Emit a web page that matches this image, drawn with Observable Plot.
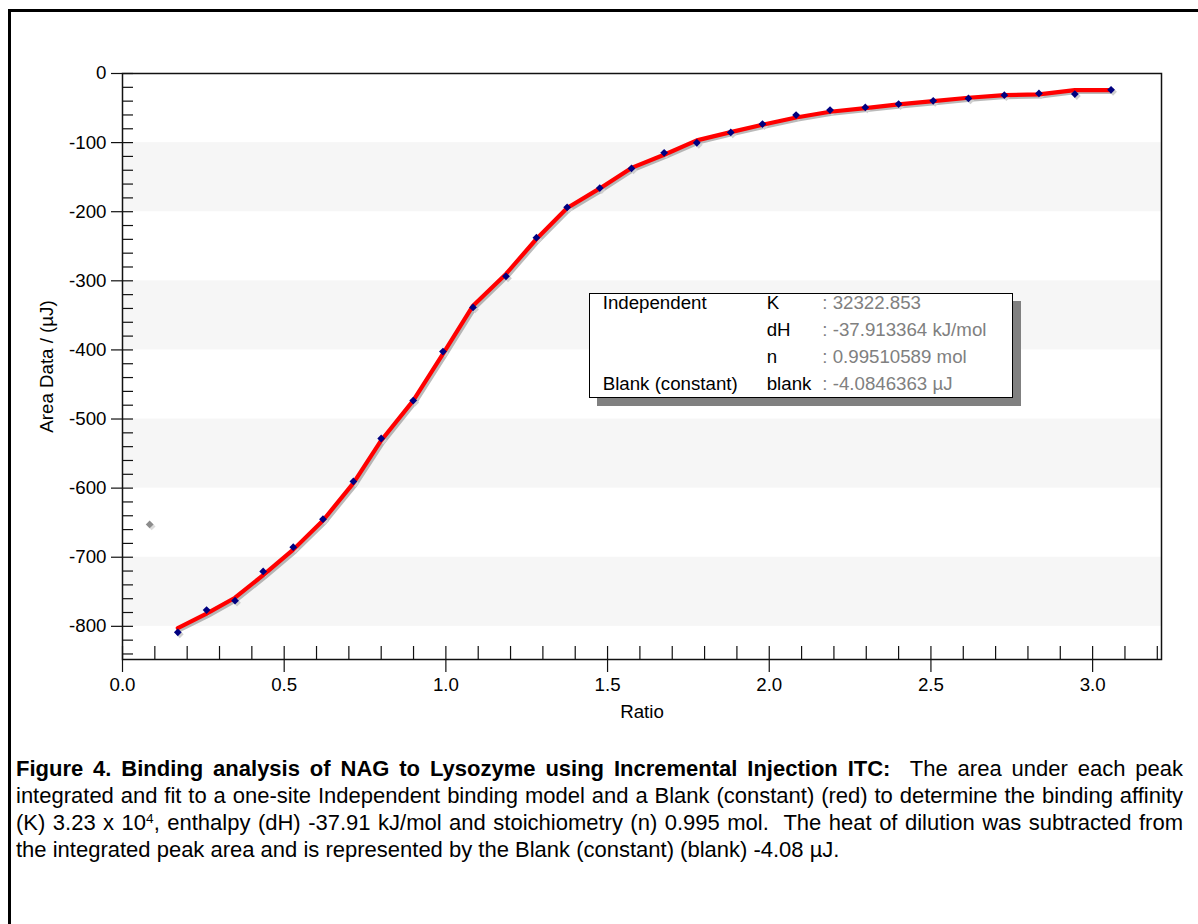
<!DOCTYPE html>
<html><head><meta charset="utf-8">
<script src="https://cdn.jsdelivr.net/npm/d3@7"></script>
<script src="https://cdn.jsdelivr.net/npm/@observablehq/plot@0.6"></script>
<style>
html,body{margin:0;padding:0;background:#fff;overflow:hidden;width:1198px;height:924px;}
body{position:relative;font-family:"Liberation Sans",Arial,sans-serif;color:#000;}
#border{position:absolute;left:8px;top:9px;width:1220px;height:940px;border:3px solid #000;box-sizing:border-box;}
#chart{position:absolute;left:0;top:0;}
#legend{position:absolute;left:589px;top:293px;width:424px;height:105px;border:1px solid #000;background:#fff;box-shadow:8px 8px 0 #808080;box-sizing:border-box;font-size:18.7px;}
#legend .row{position:absolute;left:0;width:100%;height:26.7px;line-height:26.7px;white-space:nowrap;}
#legend .c1{position:absolute;left:12.7px;}
#legend .c2{position:absolute;left:176.7px;}
#legend .c3{position:absolute;left:232.3px;color:#808080;}
#caption{position:absolute;left:16px;top:754.8px;width:1167px;font-size:22px;}
#caption .ln{height:27px;line-height:27px;white-space:nowrap;text-align:justify;text-align-last:justify;}
#caption .ln.last{text-align:left;text-align-last:left;}
#caption sup{font-size:0.62em;line-height:0;vertical-align:0.55em;}
</style>
</head><body>
<div id="border"></div>
<div id="chart"></div>
<div id="legend"></div>
<div id="caption"></div>
<script>
// ---- data ----
const ratio = [0.171, 0.260, 0.348, 0.435, 0.528, 0.620, 0.714, 0.800, 0.899, 0.991,
               1.084, 1.186, 1.280, 1.375, 1.476, 1.574, 1.675, 1.776, 1.881, 1.979,
               2.083, 2.188, 2.297, 2.400, 2.507, 2.616, 2.727, 2.834, 2.945, 3.057];
const areaData = [-808.7, -776.4, -762.9, -720.5, -685.4, -644.9, -590.4, -528.2, -473.3, -402.4,
                  -338.5, -293.5, -237.6, -193.7, -165.8, -137.3, -114.7, -100.2, -85.3, -73.2,
                  -60.2, -52.9, -49.1, -44.3, -39.5, -36.1, -31.3, -28.9, -29.8, -23.6];
const fitArea = [-802.5, -781.7, -758.6, -726.0, -689.0, -646.8, -592.8, -531.0, -473.3, -405.7,
                 -336.0, -290.0, -239.5, -194.6, -166.3, -136.6, -117.6, -96.8, -84.8, -74.2,
                 -63.6, -55.4, -50.1, -44.8, -40.0, -35.1, -31.3, -30.3, -24.0, -24.0];
const excludedRatio = [0.084];
const excludedArea = [-652.5];

const stripeTop = [-100, -300, -500, -700];
const stripeBottom = [-200, -400, -600, -800];

const xMajorTicks = [0.0, 0.5, 1.0, 1.5, 2.0, 2.5, 3.0];
const xMinorTicks = [0.1, 0.2, 0.3, 0.4, 0.6, 0.7, 0.8, 0.9, 1.1, 1.2, 1.3, 1.4, 1.6, 1.7, 1.8, 1.9,
                     2.1, 2.2, 2.3, 2.4, 2.6, 2.7, 2.8, 2.9, 3.1, 3.2];
const yMajorTicks = [0, -100, -200, -300, -400, -500, -600, -700, -800];
const yMinorTicks = [-20, -40, -60, -80, -120, -140, -160, -180, -220, -240, -260, -280,
                     -320, -340, -360, -380, -420, -440, -460, -480, -520, -540, -560, -580,
                     -620, -640, -660, -680, -720, -740, -760, -780, -820, -840];

const xLabel = "Ratio";
const yLabel = "Area Data / (µJ)";

const legendGroup = ["Independent", "", "", "Blank (constant)"];
const legendParam = ["K", "dH", "n", "blank"];
const legendValue = [": 32322.853", ": -37.913364 kJ/mol", ": 0.99510589 mol", ": -4.0846363 µJ"];

const captionLines = [
  "<b>Figure 4. Binding analysis of NAG to Lysozyme using Incremental Injection ITC:</b>&nbsp; The area under each peak",
  "integrated and fit to a one-site Independent binding model and a Blank (constant) (red) to determine the binding affinity",
  "(K) 3.23 x 10<sup>4</sup>, enthalpy (dH) -37.91 kJ/mol and stoichiometry (n) 0.995 mol.&nbsp; The heat of dilution was subtracted from",
  "the integrated peak area and is represented by the Blank (constant) (blank) -4.08 µJ."
];

// ---- build tables ----
const xMin = 0, xMax = 3.213, yMin = -848, yMax = 0;
const points = ratio.map((x, i) => ({x, y: areaData[i]}));
const fitRows = ratio.map((x, i) => ({x, y: fitArea[i]}));
const excluded = excludedRatio.map((x, i) => ({x, y: excludedArea[i]}));
const stripes = stripeTop.map((t, i) => ({x1: xMin, x2: xMax, y1: t, y2: stripeBottom[i]}));

const W = 1198, H = 740;
const FONT = '"Liberation Sans", Arial, sans-serif';
const FS = 18.7;

const chart = Plot.plot({
  width: W, height: H,
  marginLeft: 122, marginRight: 37, marginTop: 73, marginBottom: H - 659,
  x: {domain: [xMin, xMax]},
  y: {domain: [yMin, yMax]},
  style: {fontFamily: FONT, fontSize: FS + "px", color: "#000", background: "transparent", overflow: "visible"},
  marks: [
    Plot.rect(stripes, {x1: "x1", x2: "x2", y1: "y1", y2: "y2", fill: "#f6f6f6"}),
    // shadows
    Plot.line(fitRows, {x: "x", y: "y", stroke: "#666", strokeWidth: 4, strokeOpacity: 0.45, dx: 2, dy: 2}),
    Plot.dot(points, {x: "x", y: "y", symbol: "diamond2", r: 3.5, fill: "#cfcfcf", stroke: "none", dx: 2, dy: 2}),
    Plot.dot(excluded, {x: "x", y: "y", symbol: "diamond2", r: 3.5, fill: "#dcdcdc", stroke: "none", dx: 2, dy: 2}),
    // fit line
    Plot.line(fitRows, {x: "x", y: "y", stroke: "#ff0000", strokeWidth: 4.2, curve: "linear"}),
    // data points
    Plot.dot(points, {x: "x", y: "y", symbol: "diamond2", r: 3.5, fill: "#000080", stroke: "none"}),
    Plot.dot(excluded, {x: "x", y: "y", symbol: "diamond2", r: 3.5, fill: "#8c8c8c", stroke: "none"}),
    // frame
    Plot.frame({stroke: "#111", strokeWidth: 1.5}),
    // ticks
    Plot.ruleX(xMinorTicks, {x: d => d, y1: yMin, y2: yMin, insetTop: -13, insetBottom: 0, stroke: "#111", strokeWidth: 1.2}),
    Plot.ruleX(xMajorTicks, {x: d => d, y1: yMin, y2: yMin, insetTop: -13, insetBottom: -13, stroke: "#111", strokeWidth: 1.2}),
    Plot.ruleY(yMinorTicks, {y: d => d, x1: xMin, x2: xMin, insetLeft: 0, insetRight: -11, stroke: "#111", strokeWidth: 1.2}),
    Plot.ruleY(yMajorTicks, {y: d => d, x1: xMin, x2: xMin, insetLeft: -11, insetRight: -11, stroke: "#111", strokeWidth: 1.2}),
    // tick labels
    Plot.axisX({ticks: xMajorTicks, tickSize: 0, tickPadding: 18.5, tickFormat: d => d.toFixed(1), label: null, fontSize: FS}),
    Plot.axisY({ticks: yMajorTicks, tickSize: 0, tickPadding: 16, tickFormat: d => String(d), label: null, fontSize: FS}),
    // axis titles
    Plot.text([xLabel], {frameAnchor: "bottom", dy: 53, lineAnchor: "middle", textAnchor: "middle", fontSize: FS, fill: "#000"}),
    Plot.text([yLabel], {frameAnchor: "left", dx: -75, rotate: -90, lineAnchor: "middle", textAnchor: "middle", fontSize: FS, fill: "#000"})
  ]
});
document.getElementById("chart").appendChild(chart);

// legend box
const lg = document.getElementById("legend");
legendParam.forEach((p, i) => {
  const row = document.createElement("div");
  row.className = "row";
  row.style.top = (-3.6 + i * 26.7) + "px";
  row.innerHTML = `<span class="c1">${legendGroup[i]}</span><span class="c2">${p}</span><span class="c3">${legendValue[i]}</span>`;
  lg.appendChild(row);
});

// caption
const cap = document.getElementById("caption");
captionLines.forEach((t, i) => {
  const d = document.createElement("div");
  d.className = "ln" + (i === captionLines.length - 1 ? " last" : "");
  d.innerHTML = t;
  cap.appendChild(d);
});
</script>
</body></html>
